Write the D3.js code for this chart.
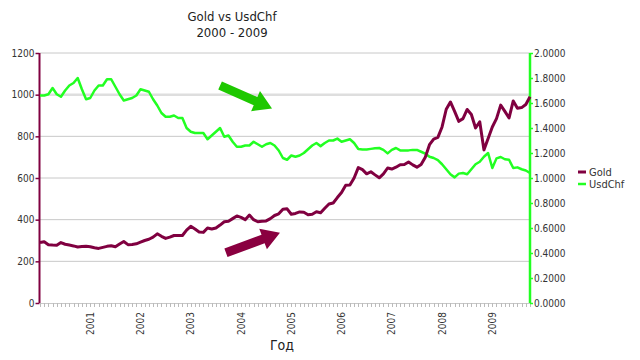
<!DOCTYPE html>
<html><head><meta charset="utf-8">
<script src="https://cdn.jsdelivr.net/npm/d3@7"></script>
<style>
body{margin:0;background:#fff;}
svg{display:block;}
text{font-family:"Liberation Sans Narrow","DejaVu Sans Condensed","Liberation Sans",Arial,sans-serif;}
</style></head>
<body><svg id="c" width="640" height="360"></svg>
<script>
const title = ["Gold vs UsdChf", "2000 - 2009"];
const xTitle = "Год";
const startYear = 2000;
const yearLabels = ["2001","2002","2003","2004","2005","2006","2007","2008","2009"];
const goldTicks = [0,200,400,600,800,1000,1200];
const usdTicks = [0,0.2,0.4,0.6,0.8,1.0,1.2,1.4,1.6,1.8,2.0];
const gold = [290,294,280,278,277,290,282,278,274,269,271,272,
  270,265,262,267,272,275,270,283,295,280,281,284,
  292,300,306,316,332,320,310,316,324,324,324,350,
  368,355,341,339,360,355,360,374,390,392,405,418,
  411,400,422,400,390,392,394,405,420,428,450,452,
  426,430,437,436,424,426,438,433,455,475,480,506,
  530,565,566,600,650,640,620,630,615,601,620,648,
  643,652,664,665,677,663,652,665,700,760,787,795,
  845,930,965,920,872,885,929,905,840,870,735,790,
  845,885,950,920,888,970,935,938,953,990];
const usdchf = [1.66,1.66,1.67,1.72,1.67,1.65,1.70,1.74,1.76,1.80,1.71,1.63,
  1.64,1.70,1.74,1.74,1.79,1.79,1.73,1.67,1.62,1.63,1.64,1.66,
  1.71,1.70,1.69,1.63,1.58,1.52,1.49,1.49,1.50,1.48,1.48,1.40,
  1.37,1.36,1.36,1.36,1.31,1.34,1.37,1.40,1.33,1.34,1.29,1.25,
  1.25,1.26,1.26,1.29,1.27,1.25,1.27,1.28,1.26,1.22,1.16,1.146,
  1.18,1.17,1.18,1.20,1.23,1.26,1.28,1.255,1.28,1.30,1.30,1.315,
  1.29,1.30,1.31,1.28,1.232,1.228,1.228,1.233,1.238,1.24,1.225,1.197,
  1.225,1.24,1.221,1.221,1.221,1.225,1.225,1.21,1.195,1.17,1.16,1.143,
  1.11,1.07,1.03,1.005,1.035,1.04,1.03,1.07,1.11,1.13,1.17,1.20,
  1.08,1.157,1.168,1.15,1.146,1.08,1.085,1.07,1.06,1.04];
const seriesNames = ["Gold","UsdChf"];
const colors = {gold:"#800040", usd:"#22ff22", goldArrow:"#8a0040", usdArrow:"#1ec800"};
// annotation arrows in data units: [index, value] start -> end
const usdArrow = {from:[43,1.74], to:[55.4,1.557]};
const goldArrow = {from:[44.4,241], to:[57.3,337]};

const months = gold.map((_,i)=>new Date(startYear, i, 1));

const svg = d3.select("#c");
const L=40, R=530, T=53, B=303;
const x = d3.scaleLinear().domain([0, gold.length-1]).range([L,R]);
const yG = d3.scaleLinear().domain([0,1200]).range([B,T]);
const yU = d3.scaleLinear().domain([0,2]).range([B,T]);

// titles
svg.append("text").attr("x",232).attr("y",21).attr("text-anchor","middle")
  .attr("font-size",13).attr("fill","#222").text(title[0]);
svg.append("text").attr("x",232).attr("y",37).attr("text-anchor","middle")
  .attr("font-size",13).attr("fill","#222").text(title[1]);

// gridlines
svg.append("g").selectAll("line").data(goldTicks.filter(d=>d>0)).join("line")
  .attr("x1",L).attr("x2",R).attr("y1",d=>yG(d)).attr("y2",d=>yG(d))
  .attr("stroke",d=>d===1000?"#dedede":"#c8c8c8")
  .attr("stroke-width",d=>d===1000?2.5:1);

// x axis baseline + monthly ticks
svg.append("line").attr("x1",L).attr("x2",R).attr("y1",B+0.5).attr("y2",B+0.5)
  .attr("stroke","#c8c8c8");
svg.append("g").selectAll("line").data(months).join("line")
  .attr("x1",(d,i)=>Math.round(x(i))+0.5).attr("x2",(d,i)=>Math.round(x(i))+0.5)
  .attr("y1",B).attr("y2",B+4).attr("stroke","#bbb");
svg.append("g").selectAll("text").data(yearLabels).join("text")
  .attr("transform",d=>{const i=months.findIndex(m=>m.getFullYear()===+d && m.getMonth()===0);
     return `translate(${x(i)+3.5},312) rotate(-90)`;})
  .attr("text-anchor","end").attr("font-size",10).attr("fill","#333").text(d=>d);
svg.append("text").attr("x",282).attr("y",350).attr("text-anchor","middle")
  .attr("font-size",14).attr("fill","#222").text(xTitle);

// left axis
const la = svg.append("g").attr("transform",`translate(${L-0.5},0)`)
  .call(d3.axisLeft(yG).tickValues(goldTicks).tickSize(4).tickFormat(d3.format("d")));
la.select(".domain").attr("stroke",colors.gold).attr("stroke-width",2)
  .attr("d",`M0,${T}V${B}`);
la.selectAll(".tick line").attr("stroke",colors.gold).attr("stroke-width",1.5);
la.selectAll(".tick text").attr("font-size",10).attr("fill","#333")
  .attr("font-family","Liberation Sans Narrow, DejaVu Sans Condensed, sans-serif").attr("x",-5);

// right axis
const ra = svg.append("g").attr("transform",`translate(${R},0)`)
  .call(d3.axisRight(yU).tickValues(usdTicks).tickSize(3).tickFormat(d3.format(".4f")));
ra.select(".domain").attr("stroke",colors.usd).attr("stroke-width",2.5)
  .attr("d",`M0,${T}V${B}`);
ra.selectAll(".tick line").attr("stroke",colors.usd).attr("stroke-width",1.5);
ra.selectAll(".tick text").attr("font-size",10).attr("fill","#333")
  .attr("font-family","Liberation Sans Narrow, DejaVu Sans Condensed, sans-serif").attr("x",4);

// lines
svg.append("path").datum(usdchf)
  .attr("d",d3.line().x((d,i)=>x(i)).y(d=>yU(d)))
  .attr("fill","none").attr("stroke",colors.usd).attr("stroke-width",2.5).attr("stroke-linejoin","round");
svg.append("path").datum(gold)
  .attr("d",d3.line().x((d,i)=>x(i)).y(d=>yG(d)))
  .attr("fill","none").attr("stroke",colors.gold).attr("stroke-width",3).attr("stroke-linejoin","round");

// arrows
function arrow(p0,p1,color){
  const dx=p1[0]-p0[0], dy=p1[1]-p0[1], len=Math.hypot(dx,dy);
  const ang=Math.atan2(dy,dx)*180/Math.PI;
  const sw=4.5, hw=11, hl=18;
  const pts=[[0,-sw],[len-hl,-sw],[len-hl,-hw],[len,0],[len-hl,hw],[len-hl,sw],[0,sw]];
  svg.append("polygon").attr("points",pts.map(p=>p.join(",")).join(" "))
    .attr("transform",`translate(${p0[0]},${p0[1]}) rotate(${ang})`).attr("fill",color);
}
arrow([x(usdArrow.from[0]),yU(usdArrow.from[1])],[x(usdArrow.to[0]),yU(usdArrow.to[1])],colors.usdArrow);
arrow([x(goldArrow.from[0]),yG(goldArrow.from[1])],[x(goldArrow.to[0]),yG(goldArrow.to[1])],colors.goldArrow);

// legend
const lg = svg.append("g");
[[seriesNames[0],colors.gold,3],[seriesNames[1],colors.usd,2.5]].forEach((s,k)=>{
  const yy=172+k*12;
  lg.append("line").attr("x1",578).attr("x2",586).attr("y1",yy).attr("y2",yy)
    .attr("stroke",s[1]).attr("stroke-width",s[2]);
  lg.append("text").attr("x",589).attr("y",yy+4).attr("font-size",11).attr("fill","#333").text(s[0]);
});
</script></body></html>
